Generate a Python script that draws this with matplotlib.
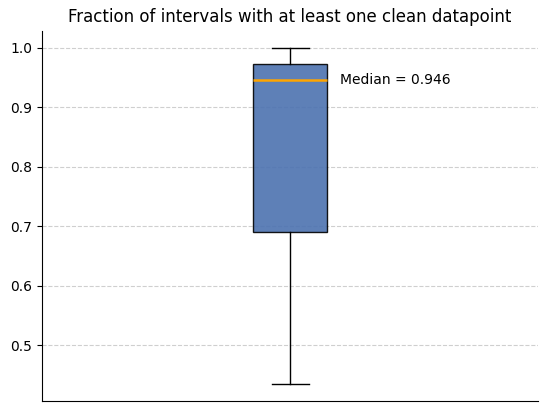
import matplotlib
matplotlib.use("Agg")
import matplotlib.pyplot as plt

# box summary
whisker_low = 0.434
q1 = 0.690
median = 0.946
q3 = 0.973
whisker_high = 1.0

fig, ax = plt.subplots(figsize=(5.47, 4.11), dpi=100)
fig.subplots_adjust(left=0.077, right=0.984, top=0.925, bottom=0.024)

stats = [{"whislo": whisker_low, "q1": q1, "med": median, "q3": q3,
          "whishi": whisker_high, "fliers": []}]
ax.bxp(stats, positions=[1], widths=0.15, patch_artist=True, showfliers=False,
       boxprops=dict(facecolor="#4c72b0", alpha=0.9, edgecolor="black"),
       medianprops=dict(color="orange", linewidth=1.8))

ax.text(1.1, median, "Median = %.3f" % median, va="center", ha="left", fontsize=10)

ax.set_title("Fraction of intervals with at least one clean datapoint")
ax.set_xticks([])
ax.set_xlim(0.5, 1.5)
ax.yaxis.grid(True, linestyle="--", alpha=0.6)
ax.set_axisbelow(True)
ax.spines["top"].set_visible(False)
ax.spines["right"].set_visible(False)

plt.savefig("out.png")
